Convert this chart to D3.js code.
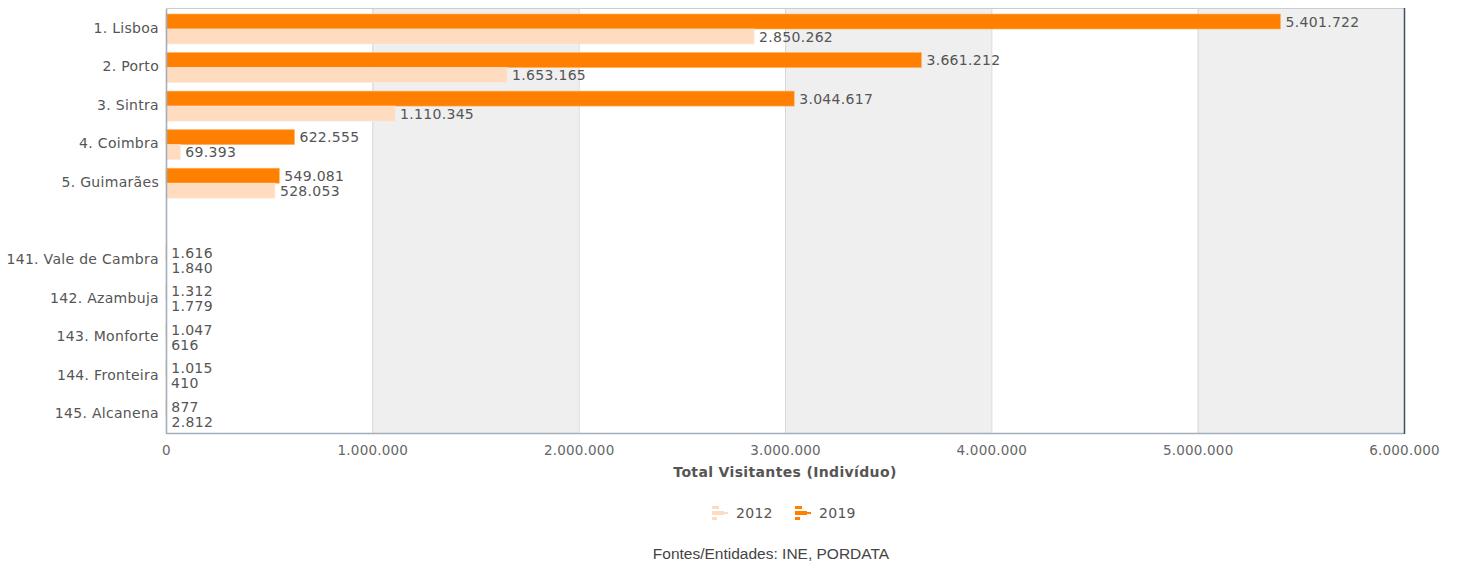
<!DOCTYPE html>
<html><head><meta charset="utf-8">
<script src="https://cdn.jsdelivr.net/npm/d3@7"></script>
<style>body{margin:0;background:#fff}svg{display:block}</style>
</head><body>
<svg id="c" width="1461" height="565"></svg>
<script>
const categories = ["1. Lisboa","2. Porto","3. Sintra","4. Coimbra","5. Guimarães","","141. Vale de Cambra","142. Azambuja","143. Monforte","144. Fronteira","145. Alcanena"];
const values2019 = [5401722,3661212,3044617,622555,549081,null,1616,1312,1047,1015,877];
const values2012 = [2850262,1653165,1110345,69393,528053,null,1840,1779,616,410,2812];
const xTicks = [0,1000000,2000000,3000000,4000000,5000000,6000000];
const seriesNames = ["2012","2019"];
const seriesColors = {"2019":"#ff8000","2012":"#ffdcbf"};
const axisTitle = "Total Visitantes (Indivíduo)";
const sourceText = "Fontes/Entidades: INE, PORDATA";

const loc = d3.formatLocale({decimal:",",thousands:".",grouping:[3],currency:["€",""]});
const fmt = loc.format(",d");
const FONT = "DejaVu Sans";
const LS = 0.3;

const svg = d3.select("#c");
const L=166,R=1404,T=9,B=433;
const x = d3.scaleLinear().domain([0,6000000]).range([L,R]);
const y = d3.scaleBand().domain(categories).range([T,B]).paddingInner(0);

// alternating bands
const g = svg.append("g");
for(let i=0;i<xTicks.length-1;i++){
  g.append("rect").attr("x",x(xTicks[i])).attr("y",T).attr("width",x(xTicks[i+1])-x(xTicks[i])).attr("height",B-T)
   .attr("fill", i%2===1 ? "#efefef" : "#ffffff");
}
// grid
g.selectAll("line.grid").data(xTicks.slice(1,-1)).join("line")
 .attr("x1",d=>x(d)+0.5).attr("x2",d=>x(d)+0.5).attr("y1",T).attr("y2",B)
 .attr("stroke","#d6d6d6").attr("stroke-width",1);

// bars
const barH = 15;
const rows = categories.map((c,i)=>({c,v19:values2019[i],v12:values2012[i]})).filter(d=>d.c!=="");
const bg = svg.append("g");
rows.forEach(d=>{
  const y0 = y(d.c) + 5;
  bg.append("rect").attr("x",L).attr("y",y0).attr("width",Math.max(0,x(d.v19)-L)).attr("height",barH)
    .attr("fill",seriesColors["2019"]).attr("stroke","#ffb266").attr("stroke-width",0.6);
  bg.append("rect").attr("x",L).attr("y",y0+barH).attr("width",Math.max(0,x(d.v12)-L)).attr("height",barH)
    .attr("fill",seriesColors["2012"]).attr("stroke","#ffe9d6").attr("stroke-width",0.6);
  bg.append("text").attr("x",x(d.v19)+5).attr("y",y0+barH/2).attr("dy","0.36em")
    .attr("font-family",FONT).attr("font-size",14).attr("letter-spacing",LS).attr("fill","#555").text(fmt(d.v19));
  bg.append("text").attr("x",x(d.v12)+5).attr("y",y0+barH+barH/2).attr("dy","0.36em")
    .attr("font-family",FONT).attr("font-size",14).attr("letter-spacing",LS).attr("fill","#555").text(fmt(d.v12));
});

// frame
svg.append("line").attr("x1",L+0.5).attr("x2",L+0.5).attr("y1",T).attr("y2",B+1).attr("stroke","#a3afbb").attr("stroke-width",1.6);
svg.append("line").attr("x1",L).attr("x2",R).attr("y1",B+0.5).attr("y2",B+0.5).attr("stroke","#a3afbb").attr("stroke-width",1.6);
svg.append("line").attr("x1",L).attr("x2",R).attr("y1",T-0.5).attr("y2",T-0.5).attr("stroke","#c8ced4").attr("stroke-width",1);
svg.append("line").attr("x1",R+0.5).attr("x2",R+0.5).attr("y1",T-1).attr("y2",B+1).attr("stroke","#3c4f63").attr("stroke-width",1.5);

// y axis labels
const ya = svg.append("g").attr("transform",`translate(${L},0)`)
  .call(d3.axisLeft(y).tickSize(0).tickPadding(7));
ya.select(".domain").remove();
ya.selectAll("text").attr("font-family",FONT).attr("font-size",14).attr("letter-spacing",LS).attr("fill","#555");

// x axis
const xa = svg.append("g").attr("transform",`translate(0,${B})`)
  .call(d3.axisBottom(x).tickValues(xTicks).tickSize(0).tickPadding(12).tickFormat(fmt));
xa.select(".domain").remove();
xa.selectAll("text").attr("font-family",FONT).attr("font-size",13.5).attr("letter-spacing",0.2).attr("fill","#666");

svg.append("text").attr("x",(L+R)/2).attr("y",477).attr("text-anchor","middle")
  .attr("font-family",FONT).attr("font-weight","bold").attr("font-size",14).attr("letter-spacing",0.35).attr("fill","#555").text(axisTitle);

// legend
const legX = {"2012":712,"2019":795};
seriesNames.forEach(s=>{
  const lg = svg.append("g").attr("transform",`translate(${legX[s]},506)`);
  const col = seriesColors[s];
  lg.append("rect").attr("x",0).attr("y",0).attr("width",7).attr("height",3).attr("fill",col);
  lg.append("rect").attr("x",0).attr("y",5).attr("width",12).attr("height",4).attr("fill",col);
  lg.append("rect").attr("x",12).attr("y",6).attr("width",4).attr("height",2).attr("fill",col);
  lg.append("rect").attr("x",0).attr("y",11).attr("width",5).attr("height",3).attr("fill",col);
  lg.append("text").attr("x",24).attr("y",7).attr("dy","0.36em").attr("font-family",FONT).attr("font-size",14).attr("letter-spacing",LS).attr("fill","#555").text(s);
});

svg.append("text").attr("x",771).attr("y",559).attr("text-anchor","middle")
  .attr("font-family","Liberation Sans, Arial").attr("font-size",15.5).attr("fill","#444").text(sourceText);
</script>
</body></html>
